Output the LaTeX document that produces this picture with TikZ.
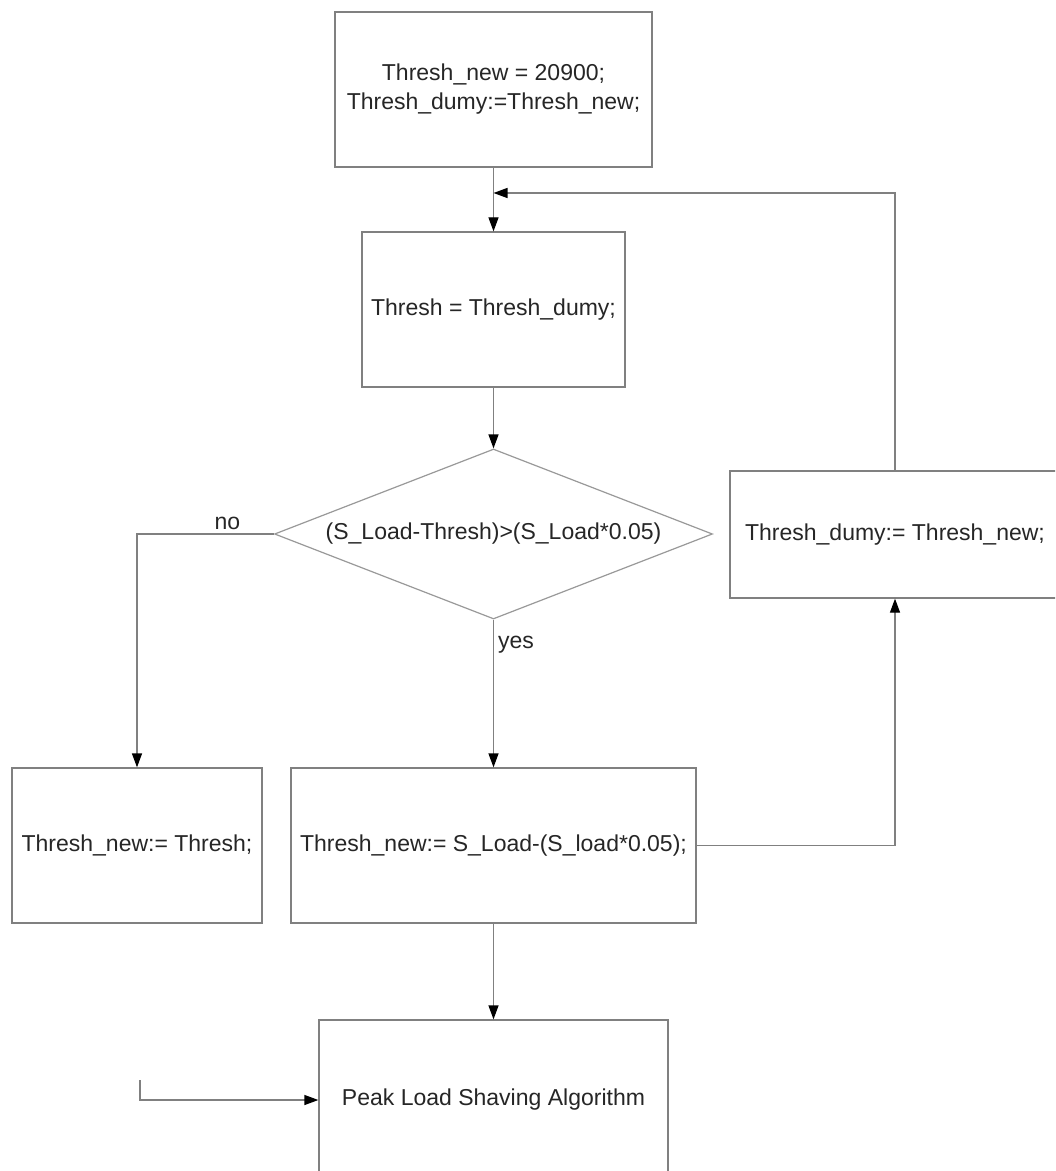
\documentclass[tikz,border=0pt]{standalone}
\usepackage{fontspec}
\setmainfont{Liberation Sans}
\usetikzlibrary{shapes.geometric,arrows.meta}
\definecolor{lnc}{HTML}{808080}
\definecolor{txc}{HTML}{262626}
\begin{document}
\begin{tikzpicture}[x=0.5pt,y=-0.5pt,
  txt/.style={font=\fontsize{11.5}{14.5}\selectfont, text=txc},
  box/.style={txt, draw=lnc, line width=0.65pt, rectangle, inner sep=0pt, align=center},
  dia/.style={txt, draw=lnc!80, line width=0.6pt, diamond, aspect=2.6, inner sep=0pt},
  conn/.style={draw=lnc, line width=0.65pt},
  arr/.style={conn, -{Triangle[length=7pt,width=5pt,color=black]}},
  lbl/.style={txt, inner sep=2pt}]
\clip (0,0) rectangle (1055,1171);
\fill[white] (0,0) rectangle (1055,1171);

\node[box, minimum width=158.5pt, minimum height=77.5pt] (b1) at (493.5,89.5)
  {Thresh\_new = 20900;\\Thresh\_dumy:=Thresh\_new;};
\node[box, minimum width=131.5pt, minimum height=77.5pt] (b2) at (493.5,309.5)
  {Thresh = Thresh\_dumy;};
\node[dia, minimum width=219pt, minimum height=85pt] (d) at (493.5,534)
  {(S\_Load-Thresh)>(S\_Load*0.05)};
\node[box, minimum width=125pt, minimum height=77.5pt] (b3) at (137,845.5)
  {Thresh\_new:= Thresh;};
\node[box, minimum width=202.5pt, minimum height=77.5pt] (b4) at (493.5,845.5)
  {Thresh\_new:= S\_Load-(S\_load*0.05);};
\node[box, minimum width=165pt, minimum height=63.5pt] (b5) at (895,534.5)
  {Thresh\_dumy:= Thresh\_new;};
\node[box, minimum width=174.5pt, minimum height=80pt] (b6) at (493.5,1100)
  {Peak Load Shaving Algorithm};

\coordinate (j) at (493.5,193);
\coordinate (s) at (140,1080);

\draw[arr] (b1.south) -- (b2.north);
\draw[arr] (b5.north) |- (j);
\draw[arr] (b2.south) -- (d.north);
\draw[arr] (d.west) -| node[lbl, pos=0.17, above] {no} (b3.north);
\draw[arr] (d.south) -- node[lbl, pos=0.17, right] {yes} (b4.north);
\draw[arr] (b4.east) -| (b5.south);
\draw[arr] (b4.south) -- (b6.north);
\draw[arr] (s) |- (b6.west);
\end{tikzpicture}
\end{document}
